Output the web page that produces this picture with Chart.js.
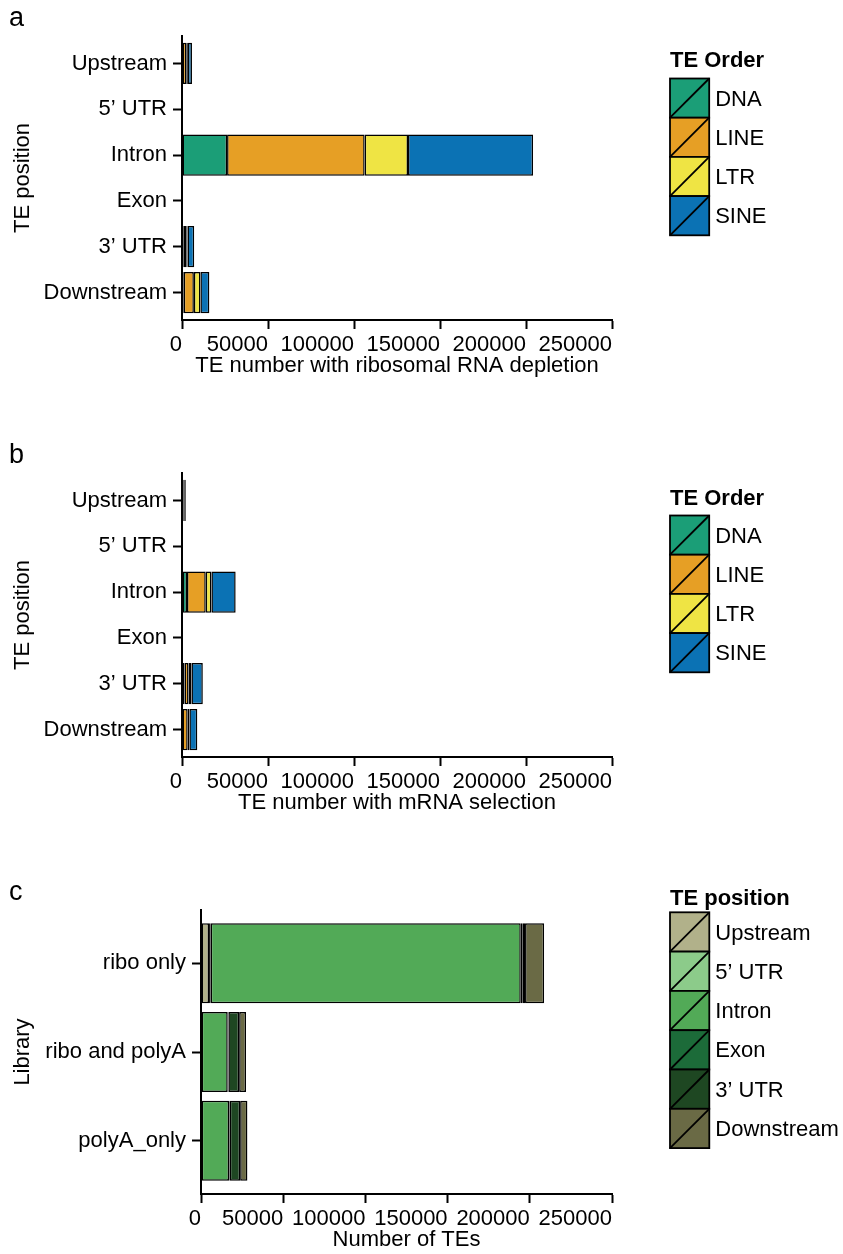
<!DOCTYPE html>
<html>
<head>
<meta charset="utf-8">
<script src="https://cdn.jsdelivr.net/npm/chart.js@4.4.1/dist/chart.umd.min.js"></script>
<style>
  body { margin: 0; background: #fff; }
  #wrap { position: relative; width: 843px; height: 1254px; }
  canvas { position: absolute; left: 0; }
  .tag { position: absolute; left: 9px; font: 27px 'Liberation Sans', Arial, sans-serif; line-height: 1; color: #000; }
</style>
</head>
<body>
<div id="wrap">
  <canvas id="riboChart" width="843" height="380" style="top:0"></canvas>
  <canvas id="mrnaChart" width="843" height="380" style="top:437px"></canvas>
  <canvas id="libraryChart" width="843" height="380" style="top:874px"></canvas>
  <div class="tag" style="top:4px">a</div>
  <div class="tag" style="top:441px">b</div>
  <div class="tag" style="top:878px">c</div>
</div>
<script>
const FONT = "'Liberation Sans', Arial, sans-serif";
const FONT_SIZE = 22;

// TE position categories and TE orders
const positions = ['Upstream', '5’ UTR', 'Intron', 'Exon', '3’ UTR', 'Downstream'];
const teOrders = ['DNA', 'LINE', 'LTR', 'SINE'];
const orderColors = ['#1b9e77', '#e69f25', '#efe444', '#0b72b4'];

// counts with ribosomal RNA depletion (one value per position)
const riboDNA  = [300, 100, 26200, 50, 1000, 1000];
const riboLINE = [2200, 150, 80000, 80, 1500, 5900];
const riboLTR  = [900, 50, 25200, 30, 700, 3800];
const riboSINE = [2400, 100, 72700, 60, 3900, 5200];

// counts with mRNA selection
const mrnaDNA  = [200, 30, 2900, 20, 1500, 300];
const mrnaLINE = [800, 60, 10900, 40, 2300, 3000];
const mrnaLTR  = [300, 20, 3300, 10, 1700, 1000];
const mrnaSINE = [900, 50, 14100, 30, 6600, 4600];

// panel c: libraries, stacked by TE position
const libraries = ['ribo only', 'ribo and polyA', 'polyA_only'];
const positionColors = ['#b1b18a', '#8ccb8a', '#52aa57', '#1c6b39', '#1e4722', '#6a6a45'];
const libUpstream   = [4900, 300, 300];
const libUTR5       = [1000, 100, 100];
const libIntron     = [188600, 15850, 16670];
const libExon       = [1200, 400, 400];
const libUTR3       = [1400, 6550, 6330];
const libDownstream = [11600, 4200, 4430];

const xTickStep = 50000;
const xMax = 250000;

// draws the square legend keys with the diagonal stroke
const boxLegend = {
  id: 'boxLegend',
  afterDraw(chart, args, opts) {
    const ctx = chart.ctx;
    const b = opts.box;
    ctx.save();
    ctx.fillStyle = '#000';
    ctx.textAlign = 'left';
    ctx.textBaseline = 'alphabetic';
    ctx.font = 'bold ' + FONT_SIZE + 'px ' + FONT;
    ctx.fillText(opts.title, opts.x, opts.titleY);
    ctx.font = FONT_SIZE + 'px ' + FONT;
    ctx.textBaseline = 'middle';
    chart.data.datasets.forEach((ds, i) => {
      const top = opts.top + i * b;
      ctx.fillStyle = ds.backgroundColor;
      ctx.fillRect(opts.x, top, b, b);
      ctx.strokeStyle = '#000';
      ctx.lineWidth = 1.8;
      ctx.strokeRect(opts.x, top, b, b);
      ctx.beginPath();
      ctx.moveTo(opts.x, top + b);
      ctx.lineTo(opts.x + b, top);
      ctx.stroke();
      ctx.fillStyle = '#000';
      ctx.fillText(ds.label, opts.x + b + 6, top + b / 2 + 1.5);
    });
    ctx.restore();
  }
};

function makeDatasets(names, colors, series) {
  return names.map((name, i) => ({
    label: name,
    data: [...series[i]],
    backgroundColor: colors[i],
    borderColor: '#000',
    borderWidth: 1.5,
    borderSkipped: false,
    barPercentage: 0.9,
    categoryPercentage: 1
  }));
}

function createChart(chartConfig) {
  const n = chartConfig.categories.length;
  const font = { family: FONT, size: FONT_SIZE };
  return {
    type: 'bar',
    data: {
      labels: chartConfig.categories.map((c, i) => i),
      datasets: chartConfig.datasets
    },
    options: {
      indexAxis: 'y',
      responsive: false,
      animation: false,
      layout: { padding: { top: 36, right: 231, bottom: 0, left: 0 } },
      plugins: {
        legend: { display: false },
        tooltip: { enabled: false },
        boxLegend: chartConfig.legend
      },
      scales: {
        x: {
          stacked: true,
          min: 0,
          max: xMax,
          ticks: {
            stepSize: xTickStep,
            align: 'end',
            color: '#000',
            font,
            padding: 3,
            maxRotation: 0,
            callback: (v) => String(v)
          },
          grid: { drawOnChartArea: false, tickLength: 9, tickWidth: 2, tickColor: '#000' },
          border: { color: '#000', width: 2 },
          title: { display: true, text: chartConfig.xTitle, color: '#000', font, padding: { top: 0, bottom: 1 } },
          afterFit: (scale) => { scale.height = 60; }
        },
        y: {
          type: 'linear',
          stacked: true,
          reverse: true,
          offset: false,
          min: -0.6,
          max: n - 0.4,
          ticks: {
            stepSize: 1,
            includeBounds: false,
            color: '#000',
            font,
            padding: 6,
            callback: (v) => chartConfig.categories[v]
          },
          grid: { offset: false, drawOnChartArea: false, tickLength: 9, tickWidth: 2, tickColor: '#000' },
          border: { color: '#000', width: 2 },
          title: { display: true, text: chartConfig.yTitle, color: '#000', font, padding: { top: 10, bottom: 0 } },
          afterFit: (scale) => { scale.width = chartConfig.axisLeft; }
        }
      }
    },
    plugins: [boxLegend]
  };
}

const riboChartConfig = {
  categories: positions,
  datasets: makeDatasets(teOrders, orderColors, [riboDNA, riboLINE, riboLTR, riboSINE]),
  xTitle: 'TE number with ribosomal RNA depletion',
  yTitle: 'TE position',
  axisLeft: 182,
  legend: { title: 'TE Order', x: 670, titleY: 67, top: 78.5, box: 39.2 }
};

const mrnaChartConfig = {
  categories: positions,
  datasets: makeDatasets(teOrders, orderColors, [mrnaDNA, mrnaLINE, mrnaLTR, mrnaSINE]),
  xTitle: 'TE number with mRNA selection',
  yTitle: 'TE position',
  axisLeft: 182,
  legend: { title: 'TE Order', x: 670, titleY: 68, top: 78.5, box: 39.2 }
};

const libraryChartConfig = {
  categories: libraries,
  datasets: makeDatasets(positions, positionColors,
    [libUpstream, libUTR5, libIntron, libExon, libUTR3, libDownstream]),
  xTitle: 'Number of TEs',
  yTitle: 'Library',
  axisLeft: 201,
  legend: { title: 'TE position', x: 670, titleY: 31, top: 38.3, box: 39.3 }
};

// render init block
const riboChart = new Chart(document.getElementById('riboChart').getContext('2d'), createChart(riboChartConfig));
const mrnaChart = new Chart(document.getElementById('mrnaChart').getContext('2d'), createChart(mrnaChartConfig));
const libraryChart = new Chart(document.getElementById('libraryChart').getContext('2d'), createChart(libraryChartConfig));
</script>
</body>
</html>
